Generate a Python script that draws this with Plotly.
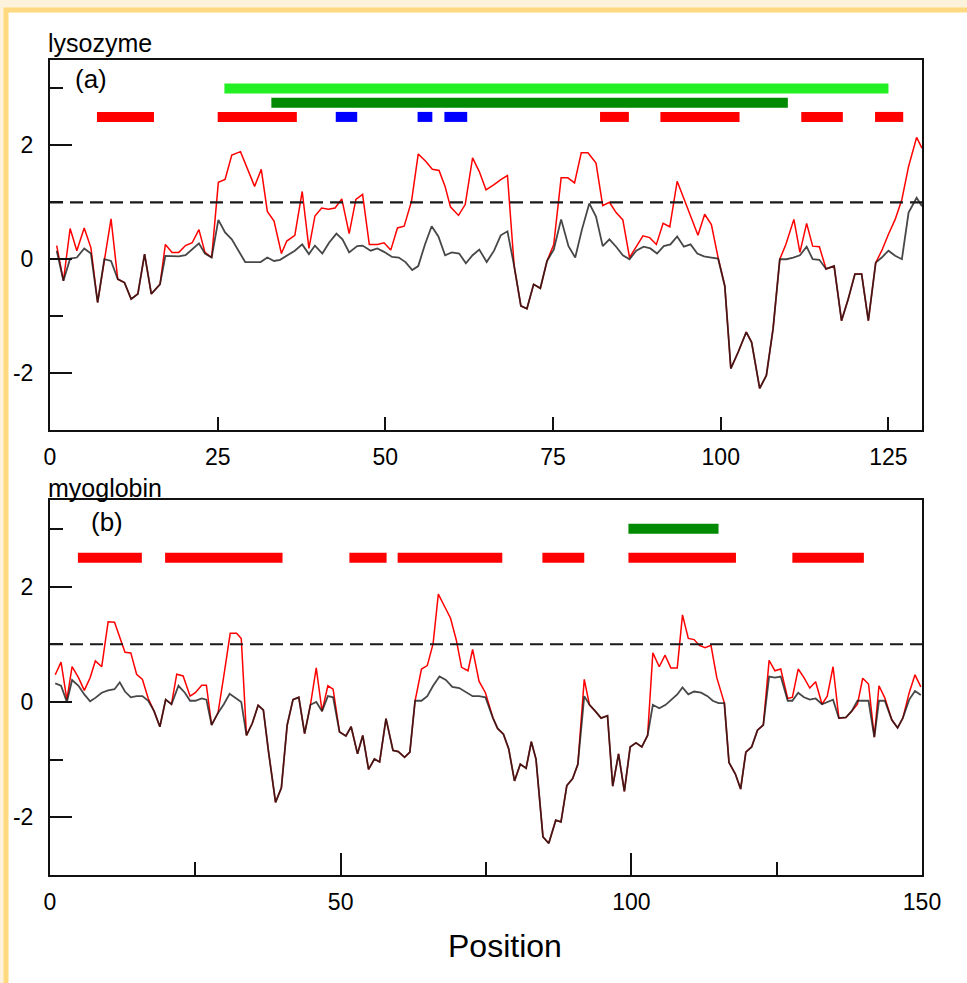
import plotly.graph_objects as go

W, H = 967, 983

# ---------------- data: lysozyme (panel a) ----------------
lyso_red_pos = [1.0, 2.0, 3.0, 4.0, 5.1, 6.1, 7.1, 8.1, 9.1, 10.1, 11.1, 12.1, 13.1, 14.1, 15.1, 16.4, 17.2, 18.2, 19.2, 20.2,
                21.2, 22.2, 23.1, 24.1, 25.1, 26.1, 27.1, 28.4, 29.5, 30.5, 31.5, 32.4, 33.4, 34.5, 35.3, 36.5, 37.6, 38.6, 39.5, 40.5,
                41.5, 42.5, 43.5, 44.6, 45.6, 46.6, 47.6, 48.8, 49.8, 50.8, 51.8, 52.8, 53.9, 54.9, 56.0, 57.0, 58.0, 58.9, 59.7, 60.9,
                61.9, 63.0, 64.0, 65.0, 66.2, 67.2, 68.2, 69.2, 70.2, 71.1, 72.1, 73.1, 74.1, 75.1, 76.2, 77.2, 78.2, 79.2, 80.2, 81.4,
                82.4, 83.4, 84.4, 85.4, 86.4, 87.4, 88.4, 89.4, 90.4, 91.4, 92.4, 93.5, 94.6, 95.6, 96.6, 97.6, 98.6, 99.6, 100.6, 101.5,
                102.6, 103.8, 104.6, 105.8, 106.8, 107.8, 108.8, 109.7, 110.9, 111.8, 112.8, 113.7, 114.7, 115.7, 116.9, 118.0, 119.0, 120.0, 121.0, 122.0,
                123.1, 124.0, 125.0, 126.0, 127.0, 128.0, 129.2, 130.0]
lyso_red = [0.24, -0.38, 0.54, 0.15, 0.55, 0.20, -0.76, 0.00, 0.71, -0.35, -0.41, -0.70, -0.61, 0.09, -0.61, -0.44, 0.26, 0.12, 0.12, 0.24,
            0.29, 0.52, 0.12, 0.03, 1.35, 1.40, 1.83, 1.89, 1.57, 1.28, 1.58, 0.84, 0.67, 0.10, 0.32, 0.42, 1.19, 0.19, 0.76, 0.90,
            0.88, 0.90, 1.06, 0.45, 1.05, 1.14, 0.26, 0.26, 0.29, 0.16, 0.55, 0.58, 1.02, 1.85, 1.72, 1.58, 1.56, 1.28, 0.92, 0.77,
            0.96, 1.78, 1.54, 1.22, 1.31, 1.40, 1.47, -0.12, -0.82, -0.87, -0.44, -0.51, -0.03, 0.26, 1.43, 1.43, 1.34, 1.87, 1.87, 1.69,
            0.94, 1.00, 0.82, 0.69, 0.03, 0.23, 0.41, 0.38, 0.26, 0.63, 0.57, 1.37, 1.05, 0.73, 0.42, 0.79, 0.61, 0.03, -0.47, -1.92,
            -1.63, -1.28, -1.46, -2.27, -2.04, -1.22, 0.00, 0.26, 0.70, 0.12, 0.63, 0.23, 0.22, -0.17, -0.12, -1.08, -0.70, -0.26, -0.26, -1.08,
            -0.06, 0.15, 0.44, 0.70, 1.05, 1.63, 2.14, 1.95]

lyso_black_pos = [1.0, 2.0, 3.0, 4.0, 5.1, 6.1, 7.1, 8.1, 9.1, 10.1, 11.1, 12.1, 13.1, 14.1, 15.1, 16.4, 17.2, 18.2, 19.2, 20.2,
                  21.2, 22.2, 23.1, 24.1, 25.1, 26.1, 27.1, 28.1, 29.1, 30.1, 31.4, 32.4, 33.4, 34.3, 35.3, 36.5, 37.6, 38.6, 39.5, 40.6,
                  41.6, 42.7, 43.6, 44.6, 45.8, 46.6, 47.8, 48.8, 49.8, 51.0, 52.0, 53.0, 54.0, 54.9, 55.9, 56.9, 57.9, 58.9, 59.9, 61.0,
                  62.0, 63.0, 64.0, 65.1, 66.2, 67.2, 68.2, 69.2, 70.2, 71.1, 72.1, 73.1, 74.1, 75.1, 76.2, 77.3, 78.3, 79.3, 80.4, 81.4,
                  82.4, 83.4, 84.4, 85.4, 86.4, 87.4, 88.5, 89.5, 90.5, 91.5, 92.5, 93.5, 94.5, 95.5, 96.5, 97.5, 98.6, 99.6, 100.6, 101.5,
                  102.6, 103.8, 104.6, 105.8, 106.8, 107.8, 108.8, 109.8, 110.8, 111.8, 112.8, 113.7, 114.7, 115.7, 116.9, 118.0, 119.0, 120.0, 121.0, 122.0,
                  123.1, 124.0, 125.0, 126.0, 127.0, 128.0, 129.2, 130.0]
lyso_black = [0.15, -0.38, 0.01, 0.03, 0.19, 0.10, -0.76, 0.00, -0.03, -0.35, -0.41, -0.70, -0.61, 0.09, -0.61, -0.44, 0.06, 0.05, 0.05, 0.07,
              0.17, 0.28, 0.10, 0.03, 0.69, 0.47, 0.35, 0.15, -0.05, -0.05, -0.05, 0.03, -0.03, -0.01, 0.07, 0.15, 0.26, 0.09, 0.24, 0.10,
              0.29, 0.45, 0.35, 0.12, 0.23, 0.24, 0.15, 0.19, 0.13, 0.04, 0.03, -0.05, -0.19, -0.12, 0.26, 0.58, 0.40, 0.07, 0.12, 0.10,
              -0.07, 0.07, 0.17, -0.05, 0.15, 0.42, 0.49, -0.12, -0.82, -0.87, -0.44, -0.51, -0.03, 0.17, 0.70, 0.23, 0.03, 0.52, 0.98, 0.75,
              0.23, 0.35, 0.22, 0.07, 0.00, 0.15, 0.22, 0.19, 0.10, 0.23, 0.26, 0.40, 0.22, 0.26, 0.10, 0.05, 0.03, 0.01, -0.47, -1.92,
              -1.63, -1.28, -1.46, -2.27, -2.04, -1.22, 0.00, 0.00, 0.03, 0.07, 0.22, 0.00, -0.01, -0.17, -0.12, -1.08, -0.70, -0.26, -0.26, -1.08,
              -0.06, 0.03, 0.15, 0.06, 0.00, 0.82, 1.08, 0.93]

# segment bars (start, end) per level
lyso_lime_start, lyso_lime_end, lyso_lime_level = [26], [125], 3.0
lyso_dkgreen_start, lyso_dkgreen_end, lyso_dkgreen_level = [33], [110], 2.75
lyso_redbar_start = [7, 25, 82, 91, 112, 123]
lyso_redbar_end = [15.5, 36.8, 86.3, 102.8, 118.2, 127.2]
lyso_bluebar_start = [42.6, 54.8, 58.8]
lyso_bluebar_end = [45.8, 57.0, 62.2]
lyso_seg_level = 2.5

# ---------------- data: myoglobin (panel b) ----------------
myo_red_pos = [0.9, 1.9, 2.9, 3.8, 4.9, 5.9, 6.9, 7.8, 8.9, 10.0, 11.1, 12.0, 12.9, 13.9, 14.9, 15.9, 16.9, 17.9, 18.9, 19.9,
               20.9, 21.8, 22.9, 24.1, 25.0, 26.1, 26.9, 27.8, 28.9, 29.9, 31.0, 32.1, 32.9, 33.8, 34.8, 35.8, 36.7, 37.6, 38.8, 39.8,
               40.8, 41.8, 42.8, 43.8, 44.8, 45.8, 46.8, 47.8, 48.7, 49.8, 50.9, 51.8, 52.9, 53.8, 54.8, 55.8, 56.7, 57.8, 59.0, 59.9,
               61.0, 61.9, 62.8, 63.9, 64.9, 65.9, 66.8, 67.9, 68.9, 69.9, 70.8, 71.9, 72.7, 73.8, 74.9, 76.2, 77.0, 78.0, 78.9, 79.9,
               80.9, 81.9, 82.8, 83.6, 84.8, 85.8, 87.0, 87.9, 88.9, 89.9, 90.8, 91.9, 92.8, 93.8, 94.8, 95.9, 96.8, 97.8, 98.8, 99.8,
               100.8, 101.8, 102.8, 103.7, 104.8, 105.8, 106.8, 107.9, 108.8, 109.8, 110.8, 111.7, 112.7, 113.7, 114.7, 116.0, 116.8, 117.9, 118.8, 119.7,
               120.7, 121.7, 122.7, 123.7, 124.7, 125.7, 126.9, 127.7, 128.7, 129.7, 130.7, 131.7, 132.8, 133.7, 134.7, 135.7, 136.9, 137.9, 138.9, 139.8,
               140.8, 141.8, 142.6, 143.6, 144.8, 145.8, 146.7, 147.8, 148.8, 149.8]
myo_red = [0.47, 0.69, 0.04, 0.61, 0.42, 0.20, 0.42, 0.71, 0.61, 1.39, 1.38, 1.13, 0.86, 0.85, 0.48, 0.39, 0.06, -0.16, -0.43, 0.04,
           -0.04, 0.48, 0.45, 0.10, 0.16, 0.29, 0.29, -0.40, -0.19, 0.45, 1.19, 1.19, 1.10, -0.58, -0.37, -0.06, -0.14, -0.87, -1.74, -1.49,
           -0.40, 0.04, 0.08, -0.55, -0.05, 0.59, -0.16, 0.28, 0.22, -0.52, -0.59, -0.43, -0.90, -0.58, -1.17, -0.99, -1.04, -0.29, -0.84, -0.86,
           -0.96, -0.87, 0.02, 0.57, 0.63, 1.01, 1.87, 1.65, 1.45, 1.07, 0.60, 0.54, 0.91, 0.36, 0.16, -0.28, -0.46, -0.56, -0.81, -1.37,
           -1.08, -1.15, -0.69, -0.99, -2.34, -2.45, -2.05, -2.08, -1.45, -1.33, -1.08, 0.39, -0.05, -0.16, -0.28, -0.24, -1.46, -0.90, -1.55, -0.78,
           -0.71, -0.78, -0.58, 0.85, 0.61, 0.81, 0.59, 0.59, 1.51, 1.10, 1.08, 0.98, 0.94, 0.98, 0.42, -0.02, -1.05, -1.25, -1.51, -0.87,
           -0.78, -0.49, -0.40, 0.72, 0.54, 0.57, 0.06, 0.08, 0.57, 0.42, 0.24, 0.35, -0.04, 0.10, 0.61, -0.28, -0.27, -0.16, -0.04, 0.41,
           0.31, -0.61, 0.28, 0.07, -0.31, -0.45, -0.28, 0.16, 0.47, 0.26]

myo_black_pos = [0.9, 1.9, 2.9, 3.8, 4.9, 5.9, 6.9, 7.8, 8.9, 10.0, 11.1, 12.0, 12.9, 13.9, 14.9, 15.9, 16.9, 17.9, 18.9, 19.9,
                 20.9, 22.1, 23.2, 24.1, 25.0, 26.1, 26.9, 27.8, 28.9, 29.9, 30.9, 32.0, 32.9, 33.8, 34.8, 35.8, 36.7, 37.6, 38.8, 39.8,
                 40.8, 41.8, 42.8, 43.8, 44.8, 45.8, 46.8, 47.8, 48.7, 49.8, 50.9, 51.8, 52.9, 53.8, 54.8, 55.8, 56.7, 57.8, 59.0, 59.9,
                 61.0, 61.9, 62.8, 63.9, 64.9, 65.9, 67.0, 68.1, 69.2, 70.4, 71.6, 72.7, 73.8, 74.9, 76.2, 77.0, 78.0, 78.9, 79.9, 80.9,
                 81.9, 82.8, 83.6, 84.8, 85.8, 87.0, 87.9, 88.9, 89.9, 90.8, 91.9, 92.8, 93.8, 94.8, 95.9, 96.8, 97.8, 98.8, 99.8, 100.8,
                 101.8, 102.8, 103.7, 104.8, 105.9, 107.1, 107.9, 108.8, 109.8, 110.8, 112.0, 113.1, 114.0, 115.0, 116.0, 116.8, 117.9, 118.8, 119.7, 120.7,
                 121.7, 122.7, 123.7, 124.7, 125.7, 126.9, 127.7, 128.7, 129.7, 130.7, 131.7, 132.8, 133.7, 134.7, 135.7, 136.9, 137.9, 138.9, 139.8, 140.8,
                 141.8, 142.6, 143.6, 144.8, 145.8, 146.7, 147.8, 148.8, 149.8]
myo_black = [0.32, 0.28, 0.00, 0.38, 0.28, 0.13, 0.01, 0.07, 0.16, 0.20, 0.22, 0.34, 0.18, 0.08, 0.10, 0.10, 0.02, -0.16, -0.43, 0.04,
             -0.04, 0.28, 0.16, 0.02, 0.02, 0.06, 0.04, -0.40, -0.19, -0.04, 0.14, 0.06, 0.00, -0.58, -0.37, -0.06, -0.14, -0.87, -1.74, -1.49,
             -0.40, 0.04, 0.08, -0.55, -0.05, 0.00, -0.16, 0.10, 0.08, -0.52, -0.59, -0.43, -0.90, -0.58, -1.17, -0.99, -1.04, -0.29, -0.84, -0.86,
             -0.96, -0.87, 0.02, 0.02, 0.10, 0.28, 0.44, 0.38, 0.26, 0.24, 0.16, 0.10, 0.10, 0.08, -0.28, -0.46, -0.56, -0.81, -1.37, -1.08,
             -1.15, -0.69, -0.99, -2.34, -2.45, -2.05, -2.08, -1.45, -1.33, -1.08, 0.10, -0.05, -0.16, -0.28, -0.24, -1.46, -0.90, -1.55, -0.78, -0.71,
             -0.78, -0.58, -0.05, -0.11, -0.05, 0.06, 0.13, 0.25, 0.13, 0.18, 0.16, 0.10, 0.02, -0.02, -0.02, -1.05, -1.25, -1.51, -0.87, -0.78,
             -0.49, -0.40, 0.44, 0.42, 0.44, 0.02, 0.02, 0.16, 0.08, 0.04, 0.06, -0.04, 0.00, 0.04, -0.28, -0.27, -0.16, 0.02, 0.02, 0.02,
             -0.61, 0.02, 0.02, -0.31, -0.45, -0.28, 0.04, 0.19, 0.12]

myo_dkgreen_start, myo_dkgreen_end, myo_dkgreen_level = [99.5], [115], 3.0
myo_redbar_start = [4.8, 19.8, 51.5, 59.8, 84.7, 99.5, 127.7]
myo_redbar_end = [15.8, 40.0, 57.9, 77.8, 91.9, 118.0, 140.0]
myo_seg_level = 2.5

THRESHOLD = 1.0
x_ticks_a = [0, 25, 50, 75, 100, 125]
x_ticks_b = [0, 50, 100, 150]
y_ticks = [-2, 0, 2]
y_ticktext = ["-2", "0", "2"]

# ---------------- figure ----------------
RED = "#ff0000"
LINE_BLACK = "rgba(25,25,25,0.8)"
LIME = "#22f022"
DKGREEN = "#008a00"
BLUE = "#0000ff"
FONT = "Liberation Sans, Arial, sans-serif"

fig = go.Figure()


def seg_trace(starts, ends, level, color, xa, ya, width=10):
    xs, ys = [], []
    for s, e in zip(starts, ends):
        xs += [s, e, None]
        ys += [level, level, None]
    return go.Scatter(x=xs, y=ys, mode="lines", line=dict(color=color, width=width),
                      xaxis=xa, yaxis=ya, hoverinfo="skip", showlegend=False)


# panel a
fig.add_trace(go.Scatter(x=lyso_red_pos, y=lyso_red, mode="lines", line=dict(color=RED, width=1.5),
                         xaxis="x", yaxis="y", showlegend=False))
fig.add_trace(go.Scatter(x=lyso_black_pos, y=lyso_black, mode="lines", line=dict(color=LINE_BLACK, width=1.8),
                         xaxis="x", yaxis="y", showlegend=False))
fig.add_trace(seg_trace(lyso_lime_start, lyso_lime_end, lyso_lime_level, LIME, "x", "y"))
fig.add_trace(seg_trace(lyso_dkgreen_start, lyso_dkgreen_end, lyso_dkgreen_level, DKGREEN, "x", "y"))
fig.add_trace(seg_trace(lyso_redbar_start, lyso_redbar_end, lyso_seg_level, RED, "x", "y"))
fig.add_trace(seg_trace(lyso_bluebar_start, lyso_bluebar_end, lyso_seg_level, BLUE, "x", "y"))

# panel b
fig.add_trace(go.Scatter(x=myo_red_pos, y=myo_red, mode="lines", line=dict(color=RED, width=1.5),
                         xaxis="x2", yaxis="y2", showlegend=False))
fig.add_trace(go.Scatter(x=myo_black_pos, y=myo_black, mode="lines", line=dict(color=LINE_BLACK, width=1.8),
                         xaxis="x2", yaxis="y2", showlegend=False))
fig.add_trace(seg_trace(myo_dkgreen_start, myo_dkgreen_end, myo_dkgreen_level, DKGREEN, "x2", "y2"))
fig.add_trace(seg_trace(myo_redbar_start, myo_redbar_end, myo_seg_level, RED, "x2", "y2"))

# threshold dashed lines
for xr, yr in (("x", "y"), ("x2", "y2")):
    fig.add_shape(type="line", xref=f"{xr} domain", yref=yr, x0=0, x1=1, y0=THRESHOLD, y1=THRESHOLD,
                  line=dict(color="#1a1a1a", width=2.2, dash="13px,7px"))

# frame
fig.add_shape(type="rect", xref="paper", yref="paper", x0=6 / W, x1=1.2, y0=-0.2, y1=1 - 10 / H,
              line=dict(color="#ffd97f", width=5), fillcolor="white", layer="below")

xl, xr_ = 50 / W, 922 / W
axis_common = dict(showline=True, linecolor="#111111", linewidth=2, mirror=True, showgrid=False, zeroline=False,
                   ticks="inside", tickcolor="#111111", tickwidth=2, automargin=False,
                   tickfont=dict(family=FONT, size=23, color="black"))
minor_y = dict(dtick=1, tick0=0, ticklen=13, ticks="inside", tickcolor="#111111", tickwidth=2)

fig.update_layout(
    width=W, height=H, autosize=False,
    margin=dict(l=0, r=0, t=0, b=0, pad=0, autoexpand=False),
    paper_bgcolor="#fdf3dc", plot_bgcolor="white",
    showlegend=False,
    xaxis=dict(domain=[xl, xr_], range=[0, 130], tickvals=x_ticks_a, ticklen=13, anchor="y",
               ticklabelstandoff=5, **axis_common),
    yaxis=dict(domain=[1 - 430 / H, 1 - 60 / H], range=[-3, 3.5], tickvals=y_ticks, ticktext=y_ticktext,
               ticklen=22, anchor="x", minor=minor_y, ticklabelstandoff=10, **axis_common),
    xaxis2=dict(domain=[xl, xr_], range=[0, 150], tickvals=x_ticks_b, ticklen=22, anchor="y2",
                minor=dict(dtick=25, tick0=0, ticklen=13, ticks="inside", tickcolor="#111111", tickwidth=2),
                ticklabelstandoff=5, **axis_common),
    yaxis2=dict(domain=[1 - 875 / H, 1 - 500 / H], range=[-3, 3.5], tickvals=y_ticks, ticktext=y_ticktext,
                ticklen=22, anchor="x2", minor=minor_y, ticklabelstandoff=10, **axis_common),
)


def label(text, px, py, size, xanchor="left"):
    fig.add_annotation(text=text, xref="paper", yref="paper", x=px / W, y=1 - py / H,
                       xanchor=xanchor, yanchor="middle", showarrow=False,
                       font=dict(family=FONT, size=size, color="black"))


label("lysozyme", 46, 43, 25)
label("(a)", 73, 79, 26)
label("myoglobin", 46, 488, 25)
label("(b)", 89, 522, 26)
label("Position", 505, 946, 32, xanchor="center")

fig.write_html("out.html")
